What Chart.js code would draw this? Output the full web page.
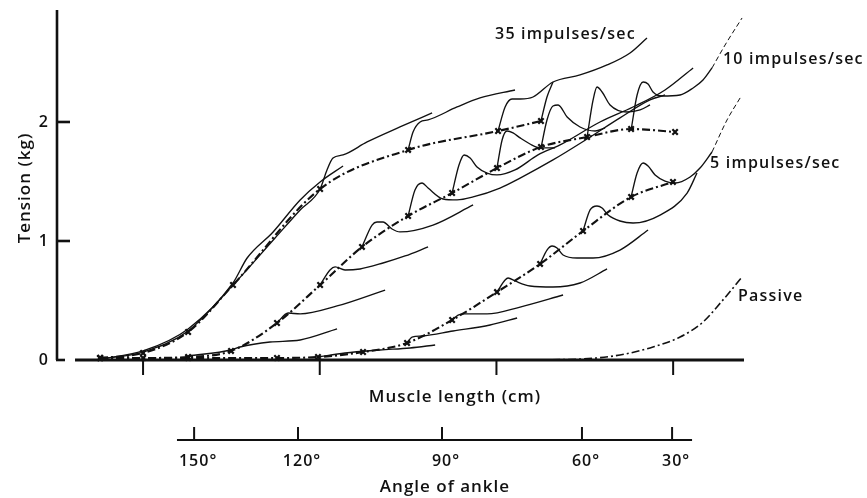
<!DOCTYPE html>
<html>
<head>
<meta charset="utf-8">
<script src="https://cdn.jsdelivr.net/npm/chart.js@4.4.1/dist/chart.umd.min.js"></script>
<style>
  html, body { margin: 0; padding: 0; background: #fff; }
  canvas { display: block; }
</style>
</head>
<body>
<canvas id="c" width="867" height="498"></canvas>
<script>
// ---------- DATA (muscle length in axis units, tension in kg) ----------
// dash-dot "mean" lines with x markers
const dd35 = [[0.757,0.017],[1.000,0.059],[1.255,0.235],[1.509,0.630],[2.002,1.437],[2.500,1.765],[3.009,1.924],[3.252,2.008]];
const dd10 = [[0.757,0.017],[1.000,0.017],[1.255,0.025],[1.498,0.076],[1.758,0.311],[2.002,0.630],[2.239,0.950],[2.500,1.210],[2.749,1.403],[3.003,1.613],[3.252,1.790],[3.513,1.874],[3.762,1.941],[4.011,1.916]];
const dd5  = [[0.757,0.017],[1.255,0.017],[1.758,0.017],[1.990,0.025],[2.245,0.067],[2.494,0.143],[2.749,0.336],[3.003,0.571],[3.247,0.807],[3.490,1.084],[3.762,1.370],[3.999,1.496]];
const passive = [[3.134,0.000],[3.473,0.008],[3.699,0.042],[3.886,0.109],[4.039,0.193],[4.169,0.319],[4.277,0.496],[4.390,0.697]];

// solid records, 35 impulses/sec
const s35a = [[0.757,0.008],[1.000,0.076],[1.255,0.261],[1.509,0.647],[1.589,0.857],[1.736,1.076],[1.889,1.345],[2.002,1.496],[2.132,1.630]];
const s35b = [[0.757,0.008],[1.000,0.067],[1.255,0.244],[1.509,0.630],[1.747,1.025],[1.889,1.261],[2.002,1.437],[2.041,1.597],[2.075,1.697],[2.132,1.723],[2.268,1.832],[2.454,1.958],[2.636,2.076]];
const s35c = [[2.500,1.765],[2.528,1.916],[2.568,2.000],[2.613,2.017],[2.777,2.126],[2.907,2.202],[3.105,2.269]];
const s35d = [[3.009,1.924],[3.049,2.126],[3.088,2.193],[3.134,2.193],[3.207,2.210],[3.320,2.336],[3.473,2.395],[3.626,2.479],[3.756,2.580],[3.852,2.706]];
const s35e = [[3.252,2.008],[3.286,2.210],[3.320,2.336]];

// solid records, 10 impulses/sec
const s10a = [[1.255,0.034],[1.498,0.084],[1.549,0.109],[1.719,0.151],[1.889,0.168],[2.098,0.261]];
const s10b = [[1.758,0.311],[1.821,0.395],[1.889,0.387],[2.098,0.454],[2.370,0.588]];
const s10c = [[2.002,0.630],[2.058,0.756],[2.087,0.782],[2.143,0.756],[2.228,0.765],[2.358,0.815],[2.483,0.874],[2.613,0.950]];
const s10d = [[2.239,0.950],[2.296,1.134],[2.324,1.160],[2.358,1.160],[2.409,1.101],[2.454,1.076],[2.641,1.134],[2.868,1.303]];
const s10e = [[2.500,1.210],[2.539,1.429],[2.579,1.487],[2.613,1.445],[2.698,1.353],[2.777,1.345],[2.868,1.370],[3.020,1.445],[3.134,1.529],[3.320,1.681],[3.513,1.857],[3.699,2.034],[3.869,2.185],[3.954,2.227]];
const s10f = [[2.749,1.403],[2.788,1.639],[2.817,1.723],[2.851,1.697],[2.890,1.622],[2.947,1.571],[3.003,1.555],[3.105,1.597],[3.235,1.723],[3.360,1.807],[3.586,2.000],[3.773,2.126],[3.954,2.269],[4.113,2.454]];
const s10g = [[3.003,1.613],[3.032,1.849],[3.060,1.924],[3.094,1.908],[3.134,1.866],[3.190,1.815],[3.247,1.782],[3.332,1.782]];
const s10h = [[3.252,1.782],[3.286,2.017],[3.320,2.134],[3.349,2.143],[3.400,2.042],[3.473,1.958],[3.558,1.924],[3.615,1.950]];
const s10i = [[3.513,1.874],[3.547,2.185],[3.569,2.294],[3.598,2.252],[3.643,2.143],[3.739,2.084],[3.813,2.101],[3.869,2.143]];
const s10j = [[3.762,1.933],[3.796,2.227],[3.830,2.336],[3.858,2.319],[3.886,2.252],[3.937,2.218],[4.039,2.227],[4.113,2.286],[4.169,2.353],[4.220,2.454]];
const t10  = [[4.220,2.454],[4.294,2.647],[4.390,2.874]];

// solid records, 5 impulses/sec
const s5b = [[1.990,0.025],[2.143,0.059],[2.341,0.084],[2.511,0.101],[2.653,0.126]];
const s5c = [[2.494,0.143],[2.522,0.193],[2.579,0.202],[2.754,0.244],[2.964,0.294],[3.117,0.353]];
const s5d = [[2.749,0.336],[2.783,0.378],[2.822,0.387],[2.947,0.387],[3.134,0.445],[3.377,0.546]];
const s5e = [[3.003,0.571],[3.049,0.672],[3.066,0.689],[3.105,0.664],[3.190,0.622],[3.320,0.613],[3.473,0.647],[3.626,0.765]];
const s5f = [[3.247,0.807],[3.286,0.924],[3.315,0.958],[3.343,0.941],[3.377,0.882],[3.456,0.857],[3.547,0.857],[3.699,0.924],[3.858,1.092]];
const s5g = [[3.490,1.084],[3.530,1.261],[3.569,1.294],[3.598,1.277],[3.632,1.218],[3.699,1.168],[3.773,1.151],[3.926,1.218],[4.079,1.403],[4.135,1.571]];
const s5h = [[3.762,1.370],[3.796,1.571],[3.830,1.655],[3.858,1.630],[3.898,1.555],[3.954,1.504],[4.011,1.487],[4.096,1.538],[4.152,1.613],[4.220,1.748]];
const t5  = [[4.220,1.748],[4.305,2.017],[4.379,2.202]];

// axes
const lengthTicks = [1, 2, 3, 4];
const tensionTicks = [0, 1, 2];
const angleTickPos = [1.289, 1.877, 2.692, 3.484, 3.994];
const angleTickLabels = ['150°', '120°', '90°', '60°', '30°'];
const seriesLabels = [
  { text: '35 impulses/sec', x: 2.992, y: 2.697 },
  { text: '10 impulses/sec', x: 4.282, y: 2.487 },
  { text: '5 impulses/sec',  x: 4.209, y: 1.613 },
  { text: 'Passive',         x: 4.367, y: 0.496 }
];

// ---------- CHART ----------
const X_MIN = 0.513, X_MAX = 4.401, Y_MAX = 2.941;
const INK = '#111';
const FONT = '"Open Sans", "DejaVu Sans", sans-serif';
const pts = a => a.map(p => ({ x: p[0], y: p[1] }));

function dashDot(arr, markers) {
  return {
    data: pts(arr), borderColor: INK, borderWidth: markers ? 2.1 : 1.6,
    borderDash: [8, 3, 2, 3], pointStyle: 'crossRot',
    pointRadius: markers ? 3.8 : 0, pointBorderWidth: 2.2, pointBorderColor: INK,
    cubicInterpolationMode: 'monotone', fill: false
  };
}
function solid(arr) {
  return {
    data: pts(arr), borderColor: INK, borderWidth: 1.35, pointRadius: 0,
    cubicInterpolationMode: 'monotone', fill: false
  };
}
function tail(arr) {
  return {
    data: pts(arr), borderColor: INK, borderWidth: 1.0, borderDash: [5, 3], pointRadius: 0,
    cubicInterpolationMode: 'monotone', fill: false
  };
}

const datasets = [
  ...[s35a, s35b, s35c, s35d, s35e, s10a, s10b, s10c, s10d, s10e, s10f, s10g, s10h, s10i, s10j,
      s5b, s5c, s5d, s5e, s5f, s5g, s5h].map(solid),
  tail(t10), tail(t5),
  dashDot(passive, false),
  dashDot(dd35, true), dashDot(dd10, true), dashDot(dd5, true)
];

const axesPlugin = {
  id: 'axesPlugin',
  beforeDraw(chart) {
    const c = chart.ctx;
    c.save();
    c.fillStyle = '#fff';
    c.fillRect(0, 0, chart.width, chart.height);
    c.restore();
  },
  afterDraw(chart) {
    const c = chart.ctx, xs = chart.scales.x, ys = chart.scales.y, a = chart.chartArea;
    c.save();
    c.strokeStyle = INK; c.fillStyle = INK; c.lineCap = 'butt';
    // y axis
    c.lineWidth = 2.6;
    c.beginPath(); c.moveTo(a.left, a.top); c.lineTo(a.left, a.bottom); c.stroke();
    tensionTicks.forEach(v => {
      const y = ys.getPixelForValue(v);
      c.beginPath(); c.moveTo(a.left - 1, y); c.lineTo(a.left + (v === 0 ? 8 : 13), y); c.stroke();
    });
    // x axis (muscle length)
    c.lineWidth = 3;
    c.beginPath(); c.moveTo(xs.getPixelForValue(0.615), a.bottom); c.lineTo(a.right, a.bottom); c.stroke();
    c.lineWidth = 2;
    lengthTicks.forEach(v => {
      const x = xs.getPixelForValue(v);
      c.beginPath(); c.moveTo(x, a.bottom); c.lineTo(x, a.bottom + 15); c.stroke();
    });
    // angle axis
    const ay = a.bottom + 80;
    c.lineWidth = 2.2;
    c.beginPath(); c.moveTo(xs.getPixelForValue(1.192), ay); c.lineTo(xs.getPixelForValue(4.107), ay); c.stroke();
    c.lineWidth = 2;
    angleTickPos.forEach(v => {
      const x = xs.getPixelForValue(v);
      c.beginPath(); c.moveTo(x, ay); c.lineTo(x, ay - 13); c.stroke();
    });
    // texts
    try { c.letterSpacing = '1px'; } catch (e) {}
    c.textBaseline = 'middle';
    c.font = '600 16px ' + FONT;
    c.textAlign = 'right';
    tensionTicks.forEach(v => c.fillText(String(v), a.left - 8, ys.getPixelForValue(v)));
    c.textAlign = 'center';
    angleTickPos.forEach((v, i) => c.fillText(angleTickLabels[i], xs.getPixelForValue(v) + 4, ay + 21));
    c.font = '600 17px ' + FONT;
    c.fillText('Muscle length (cm)', 455, a.bottom + 37);
    c.fillText('Angle of ankle', 445, ay + 47);
    c.save();
    c.translate(25, 188); c.rotate(-Math.PI / 2);
    c.fillText('Tension (kg)', 0, 0);
    c.restore();
    c.font = '600 16px ' + FONT;
    try { c.letterSpacing = '1.2px'; } catch (e) {}
    c.textAlign = 'left'; c.textBaseline = 'alphabetic';
    seriesLabels.forEach(l => c.fillText(l.text, xs.getPixelForValue(l.x), ys.getPixelForValue(l.y)));
    c.restore();
  }
};

new Chart(document.getElementById('c'), {
  type: 'line',
  data: { datasets },
  options: {
    responsive: false, animation: false,
    layout: { padding: { left: 57, right: 123, top: 10, bottom: 138 } },
    scales: {
      x: { type: 'linear', min: X_MIN, max: X_MAX, display: false },
      y: { type: 'linear', min: 0, max: Y_MAX, display: false }
    },
    plugins: { legend: { display: false }, tooltip: { enabled: false } },
    elements: { line: { tension: 0.4 } },
    datasets: { line: { clip: false } }
  },
  plugins: [axesPlugin]
});
</script>
</body>
</html>
